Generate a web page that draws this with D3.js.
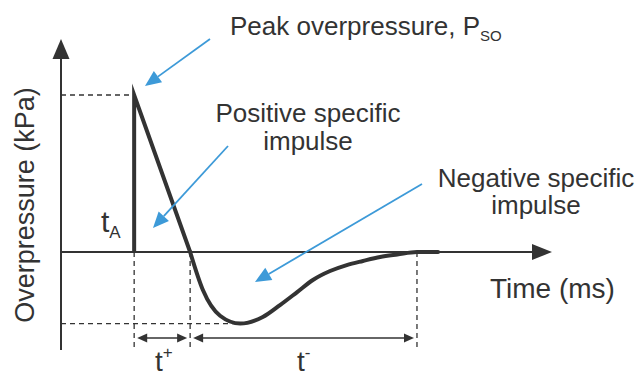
<!DOCTYPE html>
<html>
<head>
<meta charset="utf-8">
<script src="https://cdn.jsdelivr.net/npm/d3@7"></script>
<style>
  html, body { margin: 0; padding: 0; background: #fff; }
  svg { display: block; font-family: "Liberation Sans", Arial, sans-serif; }
  text { fill: #333; }
</style>
</head>
<body>
<svg id="chart" width="638" height="377"></svg>
<script>
// blast wave (Friedlander-like), time in ms, pressure in kPa
let tA = 1.49;         // arrival time
let tCross = 2.63;     // end of positive phase
let tEnd = 7.25;       // end of negative phase
let peakP = 100;       // peak overpressure
let minP = -45.6;      // lowest underpressure

let spikeTimes = [tA, tA, tCross];
let spikePress = [0, peakP, 0];

let tailTimes = [2.63, 2.89, 3.24, 3.65, 4.11, 4.46, 4.81, 5.13, 5.48, 5.82, 6.15, 6.50, 6.85, 7.25, 7.68];
let tailPress = [0, -24.2, -40.6, -45.6, -41.4, -33.8, -25.5, -17.8, -12.1, -8.3, -5.7, -3.2, -1.6, 0, 0];

let xDomain = [0, 10];
let yDomain = [-62.4, 134.4];

const ink = "#333";
const blue = "#3d9ad8";

const svg = d3.select("#chart");

const x = d3.scaleLinear().domain(xDomain).range([61, 552]);
const y = d3.scaleLinear().domain(yDomain).range([350, 41]);

// axes
svg.append("line")
    .attr("x1", x(0)).attr("x2", x(0))
    .attr("y1", y(yDomain[0])).attr("y2", y(yDomain[1]) + 15)
    .attr("stroke", ink).attr("stroke-width", 2);
svg.append("path")
    .attr("d", `M${x(0)},${y(yDomain[1]) - 2}L${x(0) - 8.5},${y(yDomain[1]) + 18}L${x(0) + 8.5},${y(yDomain[1]) + 18}Z`)
    .attr("fill", ink);

svg.append("line")
    .attr("x1", x(0)).attr("x2", x(xDomain[1]) - 15)
    .attr("y1", y(0)).attr("y2", y(0))
    .attr("stroke", ink).attr("stroke-width", 2);
svg.append("path")
    .attr("d", `M${x(xDomain[1])},${y(0)}L${x(xDomain[1]) - 20},${y(0) - 8}L${x(xDomain[1]) - 20},${y(0) + 8}Z`)
    .attr("fill", ink);

// dashed guides
const dashed = svg.append("g")
    .attr("stroke", ink).attr("stroke-width", 1.3)
    .attr("stroke-dasharray", "5,4").attr("fill", "none");

dashed.append("line")
    .attr("x1", x(0)).attr("x2", x(tA))
    .attr("y1", y(peakP)).attr("y2", y(peakP));
dashed.append("line")
    .attr("x1", x(0)).attr("x2", x(3.65))
    .attr("y1", y(minP)).attr("y2", y(minP));
[tA, tCross, tEnd].forEach(t => {
    dashed.append("line")
        .attr("x1", x(t)).attr("x2", x(t))
        .attr("y1", y(0)).attr("y2", y(yDomain[0]));
});

// double arrows for t+ and t-
const dimY = 338;
function dimArrow(t0, t1) {
    let a = x(t0) + 3, b = x(t1) - 3;
    svg.append("line")
        .attr("x1", a + 4).attr("x2", b - 4)
        .attr("y1", dimY).attr("y2", dimY)
        .attr("stroke", ink).attr("stroke-width", 1.5);
    svg.append("path")
        .attr("d", `M${a},${dimY}L${a + 10},${dimY - 4.5}L${a + 10},${dimY + 4.5}Z`)
        .attr("fill", ink);
    svg.append("path")
        .attr("d", `M${b},${dimY}L${b - 10},${dimY - 4.5}L${b - 10},${dimY + 4.5}Z`)
        .attr("fill", ink);
}
dimArrow(tA, tCross);
dimArrow(tCross, tEnd);

// the pressure curve
const spike = d3.line()
    .x((d, i) => x(spikeTimes[i]))
    .y((d, i) => y(spikePress[i]));
svg.append("path")
    .attr("d", spike(spikeTimes))
    .attr("fill", "none").attr("stroke", ink)
    .attr("stroke-width", 4).attr("stroke-linejoin", "miter")
    .attr("stroke-miterlimit", 8);

const tail = d3.line()
    .x((d, i) => x(tailTimes[i]))
    .y((d, i) => y(tailPress[i]))
    .curve(d3.curveMonotoneX);
svg.append("path")
    .attr("d", tail(tailTimes))
    .attr("fill", "none").attr("stroke", ink)
    .attr("stroke-width", 4).attr("stroke-linecap", "round");

// blue pointer arrows
function pointer(x0, y0, x1, y1) {
    let ang = Math.atan2(y1 - y0, x1 - x0);
    let len = 16, half = 7;
    let bx = x1 - len * Math.cos(ang), by = y1 - len * Math.sin(ang);
    svg.append("line")
        .attr("x1", x0).attr("y1", y0).attr("x2", bx).attr("y2", by)
        .attr("stroke", blue).attr("stroke-width", 1.8);
    let px = -Math.sin(ang) * half, py = Math.cos(ang) * half;
    svg.append("path")
        .attr("d", `M${x1},${y1}L${bx + px},${by + py}L${bx - px},${by - py}Z`)
        .attr("fill", blue);
}
pointer(210, 39, 145, 86);
pointer(228, 146, 153, 228);
pointer(422, 184, 255, 282);

// labels
const peakLabel = svg.append("text")
    .attr("x", 230).attr("y", 35)
    .attr("font-size", 26);
peakLabel.append("tspan").text("Peak overpressure, P");
peakLabel.append("tspan").attr("font-size", 15).attr("dy", 6).text("SO");

svg.append("text").attr("x", 308).attr("y", 122).attr("font-size", 26)
    .attr("text-anchor", "middle").text("Positive specific");
svg.append("text").attr("x", 308).attr("y", 150).attr("font-size", 26)
    .attr("text-anchor", "middle").text("impulse");

svg.append("text").attr("x", 536).attr("y", 187).attr("font-size", 26)
    .attr("text-anchor", "middle").text("Negative specific");
svg.append("text").attr("x", 536).attr("y", 214).attr("font-size", 26)
    .attr("text-anchor", "middle").text("impulse");

svg.append("text").attr("x", 490).attr("y", 298).attr("font-size", 28)
    .text("Time (ms)");

svg.append("text")
    .attr("transform", "translate(34,205) rotate(-90)")
    .attr("text-anchor", "middle").attr("font-size", 27)
    .text("Overpressure (kPa)");

const tALabel = svg.append("text").attr("x", 101).attr("y", 232).attr("font-size", 30);
tALabel.append("tspan").text("t");
tALabel.append("tspan").attr("font-size", 17).attr("dy", 6).text("A");

const tPlus = svg.append("text").attr("x", 155).attr("y", 371).attr("font-size", 28);
tPlus.append("tspan").text("t");
tPlus.append("tspan").attr("font-size", 17).attr("dy", -13).text("+");

const tMinus = svg.append("text").attr("x", 297).attr("y", 371).attr("font-size", 28);
tMinus.append("tspan").text("t");
tMinus.append("tspan").attr("font-size", 17).attr("dy", -13).text("-");
</script>
</body>
</html>
